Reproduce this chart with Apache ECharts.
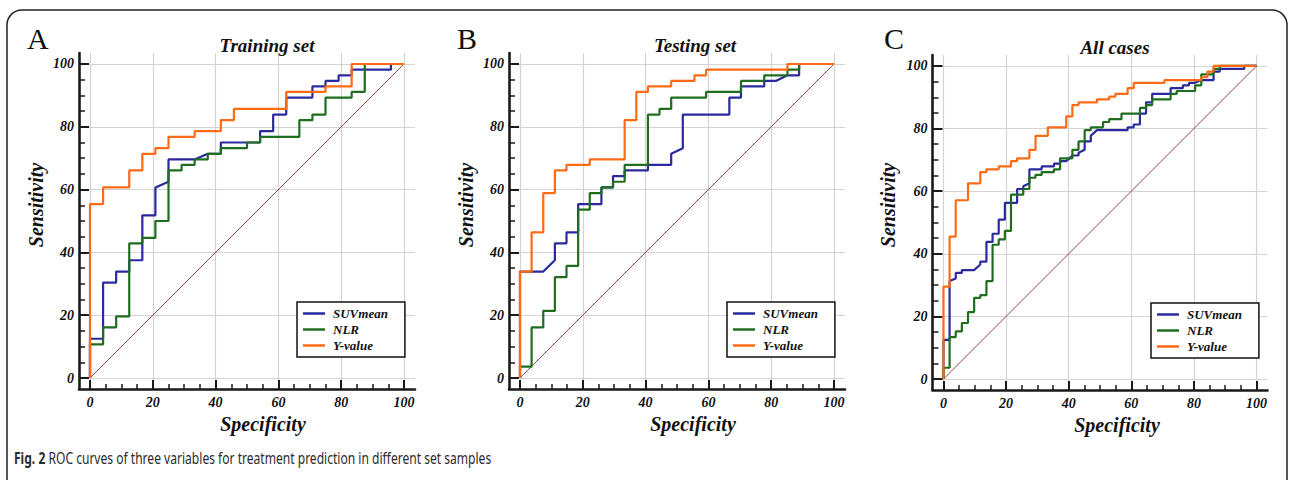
<!DOCTYPE html>
<html><head><meta charset="utf-8">
<script src="https://cdn.jsdelivr.net/npm/echarts@6/dist/echarts.min.js"></script>
<style>html,body{margin:0;padding:0;background:#fff}#c{width:1292px;height:480px}</style>
</head><body><div id="c"></div>
<script>
// ---- tick labels ----
const majorTicks = [0, 20, 40, 60, 80, 100];
const minorTicks = [0, 5, 10, 15, 20, 25, 30, 35, 40, 45, 50, 55, 60, 65, 70, 75, 80, 85, 90, 95, 100];
const seriesNames = ['SUVmean', 'NLR', 'Y-value'];
const panelTitles = ['Training set', 'Testing set', 'All cases'];
const panelLetters = ['A', 'B', 'C'];
const diagonal = [[0, 0], [100, 100]];

// ---- Training set: [100-Specificity, Sensitivity] ----
const trainSUV = [[0,0],[0,12.5],[4.17,12.5],[4.17,30.4],[8.33,30.4],[8.33,33.9],[12.5,33.9],[12.5,37.5],[16.67,37.5],[16.67,51.8],[20.83,51.8],[20.83,60.7],[25,62.5],[25,69.6],[33.33,69.6],[37.5,71.4],[41.67,71.4],[41.67,75],[54.17,75],[54.17,78.6],[58.33,78.6],[58.33,83.9],[62.5,83.9],[62.5,89.3],[70.83,89.3],[70.83,92.9],[75,92.9],[75,94.6],[79.17,94.6],[79.17,96.4],[83.33,96.4],[83.33,98.2],[95.83,98.2],[95.83,100],[100,100]];
const trainNLR = [[0,0],[0,10.7],[4.17,10.7],[4.17,16.1],[8.33,16.1],[8.33,19.6],[12.5,19.6],[12.5,42.9],[16.67,42.9],[16.67,44.6],[20.83,44.6],[20.83,50],[25,50],[25,66.1],[29.17,66.1],[29.17,67.9],[33.33,67.9],[33.33,69.6],[37.5,69.6],[37.5,71.4],[41.67,71.4],[41.67,73.2],[50,73.2],[50,75],[54.17,75],[54.17,76.8],[66.67,76.8],[66.67,82.1],[70.83,82.1],[70.83,83.9],[75,83.9],[75,89.3],[83.33,89.3],[83.33,91.1],[87.5,91.1],[87.5,100],[100,100]];
const trainY = [[0,0],[0,55.4],[4.17,55.4],[4.17,60.7],[12.5,60.7],[12.5,66.1],[16.67,66.1],[16.67,71.4],[20.83,71.4],[20.83,73.2],[25,73.2],[25,76.8],[33.33,76.8],[33.33,78.6],[41.67,78.6],[41.67,82.1],[45.83,82.1],[45.83,85.7],[62.5,85.7],[62.5,91.1],[75,91.1],[75,92.9],[83.33,92.9],[83.33,100],[100,100]];

// ---- Testing set ----
const testSUV = [[0,0],[0,33.9],[7.41,33.9],[11.11,37.5],[11.11,42.9],[14.81,42.9],[14.81,46.4],[18.52,46.4],[18.52,55.4],[25.93,55.4],[25.93,60.7],[29.63,60.7],[29.63,64.3],[33.33,64.3],[33.33,66.1],[40.74,66.1],[40.74,67.9],[48.15,67.9],[48.15,71.4],[51.85,73.2],[51.85,83.9],[66.67,83.9],[66.67,89.3],[70.37,89.3],[70.37,92.9],[77.78,92.9],[77.78,94.6],[81.48,94.6],[85.19,96.4],[88.89,96.4],[88.89,100],[100,100]];
const testNLR = [[0,0],[0,3.6],[3.7,3.6],[3.7,16.1],[7.41,16.1],[7.41,21.4],[11.11,21.4],[11.11,32.1],[14.81,32.1],[14.81,35.7],[18.52,35.7],[18.52,53.6],[22.22,53.6],[22.22,58.9],[25.93,58.9],[25.93,60.7],[29.63,60.7],[29.63,62.5],[33.33,62.5],[33.33,67.9],[40.74,67.9],[40.74,83.9],[44.44,83.9],[44.44,85.7],[48.15,85.7],[48.15,89.3],[59.26,89.3],[59.26,91.1],[70.37,91.1],[70.37,94.6],[77.78,94.6],[77.78,96.4],[85.19,96.4],[85.19,98.2],[88.89,98.2],[88.89,100],[100,100]];
const testY = [[0,0],[0,33.9],[3.7,33.9],[3.7,46.4],[7.41,46.4],[7.41,58.9],[11.11,58.9],[11.11,66.1],[14.81,66.1],[14.81,67.9],[22.22,67.9],[22.22,69.6],[33.33,69.6],[33.33,82.1],[37.04,82.1],[37.04,91.1],[40.74,91.1],[40.74,92.9],[48.15,92.9],[48.15,94.6],[55.56,94.6],[55.56,96.4],[59.26,96.4],[59.26,98.2],[85.19,98.2],[85.19,100],[100,100]];

// ---- All cases ----
const allSUV = [[0,0],[0,12.5],[1.96,12.5],[1.96,31.3],[3.92,32.1],[3.92,33.9],[5.88,33.9],[5.88,34.8],[9.8,34.8],[11.76,36.6],[11.76,37.5],[13.73,37.5],[13.73,43.8],[15.69,43.8],[15.69,46.4],[17.65,46.4],[17.65,50.9],[19.61,50.9],[19.61,56.3],[23.53,56.3],[23.53,60.7],[25.49,60.7],[25.49,61.6],[27.45,62.5],[27.45,67.0],[31.37,67.0],[31.37,67.9],[35.29,67.9],[35.29,68.8],[37.25,68.8],[37.25,69.6],[39.22,69.6],[41.18,71.4],[43.14,71.4],[43.14,72.3],[45.1,73.2],[45.1,75.9],[47.06,75.9],[47.06,77.7],[49.02,79.5],[58.82,79.5],[58.82,80.4],[60.78,80.4],[60.78,81.3],[62.75,81.3],[62.75,84.8],[64.71,84.8],[64.71,88.4],[66.67,88.4],[66.67,91.1],[72.55,91.1],[72.55,92.9],[76.47,92.9],[76.47,93.8],[78.43,93.8],[78.43,94.6],[80.39,94.6],[82.35,95.5],[86.27,95.5],[86.27,98.2],[88.24,98.2],[88.24,99.1],[96.08,99.1],[96.08,100],[100,100]];
const allNLR = [[0,0],[0,3.6],[1.96,3.6],[1.96,13.4],[3.92,13.4],[3.92,15.2],[5.88,15.2],[5.88,17.9],[7.84,17.9],[7.84,21.4],[9.8,21.4],[9.8,25.9],[11.76,25.9],[11.76,26.8],[13.73,26.8],[13.73,31.3],[15.69,31.3],[15.69,42.9],[17.65,42.9],[17.65,44.6],[19.61,44.6],[19.61,47.3],[21.57,47.3],[21.57,58.9],[25.49,58.9],[25.49,60.7],[27.45,60.7],[27.45,64.3],[29.41,64.3],[29.41,65.2],[31.37,65.2],[31.37,66.1],[35.29,66.1],[35.29,67.0],[37.25,67.0],[37.25,70.5],[41.18,70.5],[41.18,73.2],[43.14,73.2],[43.14,75.9],[45.1,75.9],[45.1,79.5],[47.06,79.5],[47.06,80.4],[50.98,80.4],[50.98,82.1],[52.94,82.1],[52.94,83.0],[56.86,83.0],[56.86,84.8],[62.75,84.8],[62.75,86.6],[64.71,86.6],[64.71,87.5],[66.67,87.5],[66.67,89.3],[72.55,89.3],[72.55,91.1],[74.51,91.1],[74.51,92.0],[80.39,92.0],[80.39,93.8],[82.35,93.8],[82.35,97.3],[86.27,97.3],[86.27,99.1],[88.24,99.1],[88.24,100],[100,100]];
const allY = [[0,0],[0,29.5],[1.96,29.5],[1.96,45.5],[3.92,45.5],[3.92,57.1],[7.84,57.1],[7.84,62.5],[11.76,62.5],[11.76,66.1],[13.73,66.1],[13.73,67.0],[17.65,67.0],[17.65,67.9],[21.57,67.9],[21.57,69.6],[23.53,69.6],[23.53,70.5],[27.45,70.5],[27.45,73.2],[29.41,73.2],[29.41,77.7],[33.33,77.7],[33.33,80.4],[39.22,80.4],[39.22,83.9],[41.18,83.9],[41.18,87.5],[43.14,87.5],[43.14,88.4],[49.02,88.4],[49.02,89.3],[52.94,89.3],[52.94,90.2],[54.9,90.2],[54.9,91.1],[58.82,91.1],[58.82,92.9],[60.78,92.9],[60.78,94.6],[70.59,94.6],[70.59,95.5],[82.35,95.5],[82.35,96.4],[84.31,96.4],[84.31,98.2],[86.27,98.2],[86.27,100],[100,100]];

const panelData = [[trainSUV, trainNLR, trainY], [testSUV, testNLR, testY], [allSUV, allNLR, allY]];

// ---- layout / style ----
const colors = ['#2a2a9e', '#1f6e1f', '#ff6a14'];
const SERIF = "'Liberation Serif','Times New Roman',serif";
const grids = [
  {left: 79, top: 53, width: 336, height: 336},
  {left: 509, top: 53, width: 336, height: 336},
  {left: 932.5, top: 55, width: 335, height: 335}
];
const legendPos = [[297, 302], [727, 302], [1151, 303]];
const titlePos = [[267, 45], [695, 45], [1115, 47]];
const letterPos = [[27, 53], [457, 53], [884, 53]];
const yNamePos = [[36, 205], [466, 205], [888, 205]];
const xNamePos = [[263, 424], [693, 424], [1117, 425]];

const axisColor = '#1a1a1a';
const labelFont = {fontFamily: SERIF, fontStyle: 'italic', fontWeight: 'bold', fontSize: 14, color: '#111'};

const xAxis = [], yAxis = [], series = [], legend = [], graphic = [];
grids.forEach((g, i) => {
  const base = {type: 'value', gridIndex: i, min: -3.5, max: 103.5, splitLine: {show: false}};
  xAxis.push(Object.assign({}, base, {
    position: 'bottom',
    axisLine: {show: true, onZero: false, lineStyle: {color: axisColor, width: 2.6}},
    axisTick: {show: true, inside: true, length: 5, customValues: minorTicks, lineStyle: {color: axisColor, width: 1.5}},
    axisLabel: Object.assign({customValues: majorTicks, margin: 6}, labelFont)
  }));
  xAxis.push(Object.assign({}, base, {
    position: 'bottom',
    axisLine: {show: false, onZero: false},
    axisTick: {show: true, inside: true, length: 9, customValues: majorTicks, lineStyle: {color: axisColor, width: 2}},
    axisLabel: {show: false}
  }));
  yAxis.push(Object.assign({}, base, {
    position: 'left',
    axisLine: {show: true, onZero: false, lineStyle: {color: axisColor, width: 2.6}},
    axisTick: {show: true, inside: true, length: 6, customValues: minorTicks, lineStyle: {color: axisColor, width: 1.5}},
    axisLabel: Object.assign({customValues: majorTicks, margin: 5}, labelFont)
  }));
  yAxis.push(Object.assign({}, base, {
    position: 'left',
    axisLine: {show: false, onZero: false},
    axisTick: {show: true, inside: true, length: 10, customValues: majorTicks, lineStyle: {color: axisColor, width: 2}},
    axisLabel: {show: false}
  }));
  const xi = 2 * i, yi = 2 * i;
  // grid lines
  series.push({
    type: 'line', xAxisIndex: xi, yAxisIndex: yi, data: [], z: 0, silent: true,
    markLine: {
      silent: true, symbol: ['none', 'none'], label: {show: false}, animation: false, z: 0,
      lineStyle: {color: '#d3d3d3', width: 1.2, type: 'solid'},
      data: majorTicks.map(v => ({xAxis: v})).concat(majorTicks.map(v => ({yAxis: v})))
    }
  });
  // diagonal
  series.push({
    type: 'line', xAxisIndex: xi, yAxisIndex: yi, data: diagonal, z: 1, silent: true,
    showSymbol: false, lineStyle: {color: '#964848', width: 1}
  });
  panelData[i].forEach((d, k) => {
    series.push({
      name: seriesNames[k], type: 'line', xAxisIndex: xi, yAxisIndex: yi, data: d,
      showSymbol: false, z: 3 + k, color: colors[k],
      lineStyle: {color: colors[k], width: 2.2}
    });
  });
  legend.push({
    data: seriesNames, orient: 'vertical', left: legendPos[i][0], top: legendPos[i][1], z: 50,
    padding: [5, 17, 5, 6], itemGap: 3, itemWidth: 22, itemHeight: 2.5, icon: 'rect',
    borderColor: '#111', borderWidth: 1.5, backgroundColor: '#fff', selectedMode: false,
    textStyle: {fontFamily: SERIF, fontStyle: 'italic', fontWeight: 'bold', fontSize: 13, color: '#111', padding: [0, 0, 0, 3]}
  });
  graphic.push({type: 'text', x: titlePos[i][0], y: titlePos[i][1], z: 10,
    style: {text: panelTitles[i], fill: '#111', font: 'italic bold 19px ' + SERIF, textAlign: 'center', textVerticalAlign: 'middle'}});
  graphic.push({type: 'text', x: letterPos[i][0], y: letterPos[i][1], z: 10,
    style: {text: panelLetters[i], fill: '#111', font: '30px ' + SERIF, textAlign: 'left', textVerticalAlign: 'bottom'}});
  graphic.push({type: 'text', x: yNamePos[i][0], y: yNamePos[i][1], rotation: Math.PI / 2, z: 10,
    style: {text: 'Sensitivity', fill: '#111', font: 'italic bold 20px ' + SERIF, textAlign: 'center', textVerticalAlign: 'middle'}});
  graphic.push({type: 'text', x: xNamePos[i][0], y: xNamePos[i][1], z: 10,
    style: {text: 'Specificity', fill: '#111', font: 'italic bold 20px ' + SERIF, textAlign: 'center', textVerticalAlign: 'middle'}});
});

// frame + caption
graphic.push({type: 'rect', z: 0, shape: {x: 7, y: 10, width: 1280, height: 520, r: 15},
  style: {fill: 'none', stroke: '#222', lineWidth: 1.5}});
graphic.push({type: 'text', x: 14, y: 458, scaleX: 0.755, z: 10,
  style: {text: '{b|Fig. 2} ROC curves of three variables for treatment prediction in different set samples',
    fill: '#2b2b2b', font: "16px 'Noto Sans', sans-serif", textAlign: 'left', textVerticalAlign: 'middle',
    rich: {b: {fontWeight: 'bold', fontSize: 16, fontFamily: "'Noto Sans', sans-serif", fill: '#2b2b2b'}}}});

const chart = echarts.init(document.getElementById('c'), null, {renderer: 'svg'});
chart.setOption({animation: false, backgroundColor: '#fff', grid: grids, xAxis, yAxis, series, legend, graphic});
</script></body></html>
